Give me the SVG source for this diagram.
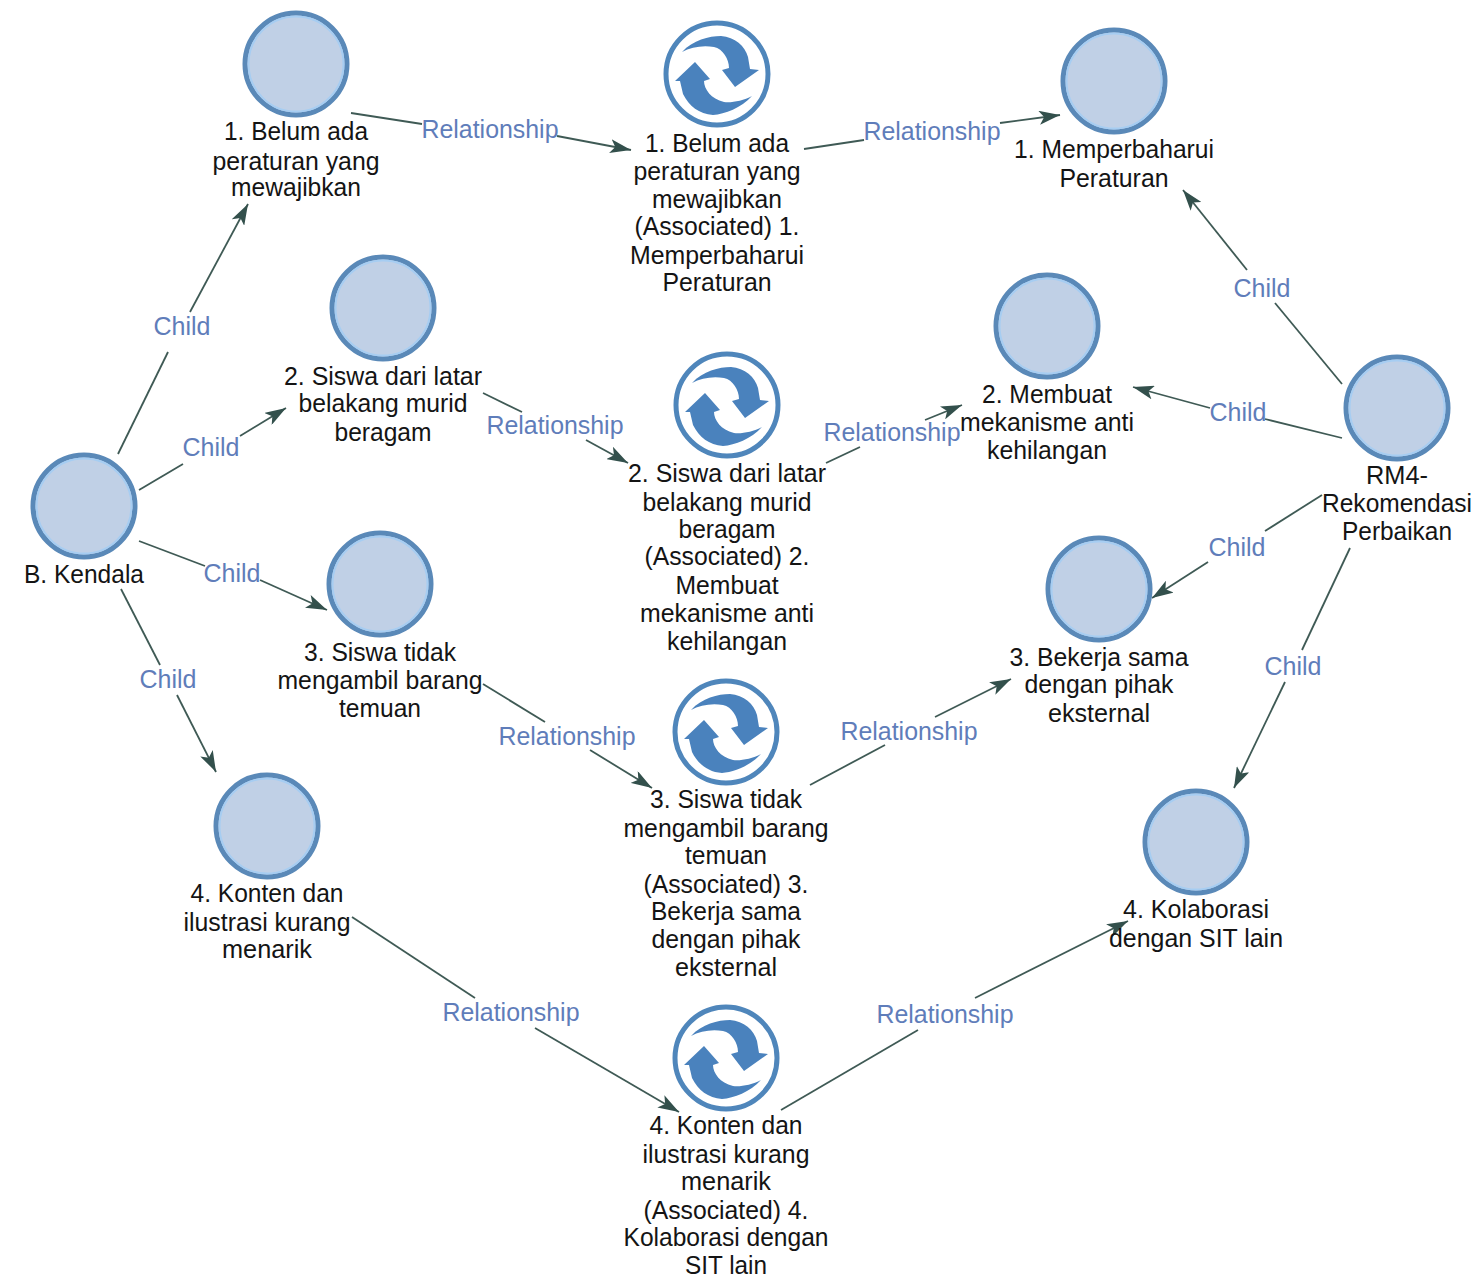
<svg xmlns="http://www.w3.org/2000/svg" width="1477" height="1284" viewBox="0 0 1477 1284">
<style>
text{font-family:"Liberation Sans",Arial,sans-serif;font-size:25px;text-anchor:middle;fill:#141414;stroke:none}
.l{fill:#5f7dba}
.c{fill:#c0d0e6;stroke:#5a89b8;stroke-width:5}
.i{fill:none;stroke:#a6cdf2;stroke-width:2}
.o{fill:#fff;stroke:#4f86bb;stroke-width:5}
.a{fill:#4a82bd}
.e{fill:none;stroke:#3f5a55;stroke-width:1.8}
.h{marker-end:url(#m)}
</style>
<defs>
<marker id="m" markerWidth="22" markerHeight="14" refX="21" refY="7" orient="auto" markerUnits="userSpaceOnUse"><path d="M0 0L21 7L0 14L5 7Z" fill="#33504c"/></marker>
<g id="ball"><circle class="c" r="51"/><circle class="i" r="47.5"/></g>
<g id="cyc"><circle class="o" r="51"/><path class="a" d="M-35-22C-24-34-8-38 4-38C18-37 28-28 31-17L33-5L42-4L18 13L5-4L12-6C12-15 6-25-3-27C-14-29-26-27-35-22Z"/><path class="a" d="M35 22C24 34 8 40-4 41C-18 40-28 32-34 20L-37 7L-42 7L-22-12L-7 5L-13 7C-13 15-6 25 7 28C14 29 26 27 35 22Z"/></g>
</defs>
<rect width="1477" height="1284" fill="#fff"/>
<g id="connectors">
<path class="e" d="M118 454L168 352"/><path class="e h" d="M190 312L248 204"/>
<path class="e" d="M139 490L183 464"/><path class="e h" d="M240 436L286 408"/>
<path class="e" d="M139 541L205 566"/><path class="e h" d="M260 580L327 610"/>
<path class="e" d="M121 589L160 665"/><path class="e h" d="M177 695L216 772"/>
<path class="e" d="M351 113L422 124"/><path class="e h" d="M557 136L631 150"/>
<path class="e" d="M804 149L864 140"/><path class="e h" d="M1000 123L1060 115"/>
<path class="e" d="M483 393L522 412"/><path class="e h" d="M586 440L628 463"/>
<path class="e" d="M826 463L860 447"/><path class="e h" d="M925 420L962 405"/>
<path class="e" d="M483 684L545 722"/><path class="e h" d="M590 750L652 788"/>
<path class="e" d="M810 785L885 745"/><path class="e h" d="M935 717L1011 679"/>
<path class="e" d="M352 917L475 998"/><path class="e h" d="M535 1028L679 1112"/>
<path class="e" d="M781 1110L918 1030"/><path class="e h" d="M975 998L1128 921"/>
<path class="e" d="M1342 384L1275 303"/><path class="e h" d="M1247 270L1183 190"/>
<path class="e" d="M1342 438L1265 419"/><path class="e h" d="M1210 408L1133 387"/>
<path class="e" d="M1322 495L1265 531"/><path class="e h" d="M1208 562L1152 598"/>
<path class="e" d="M1350 548L1302 650"/><path class="e h" d="M1285 682L1234 788"/>
</g>
<g id="edge-labels">
<text class="l" x="182" y="335" textLength="57" lengthAdjust="spacingAndGlyphs">Child</text>
<text class="l" x="211" y="456" textLength="57" lengthAdjust="spacingAndGlyphs">Child</text>
<text class="l" x="232" y="582" textLength="57" lengthAdjust="spacingAndGlyphs">Child</text>
<text class="l" x="168" y="688" textLength="57" lengthAdjust="spacingAndGlyphs">Child</text>
<text class="l" x="1262" y="297" textLength="57" lengthAdjust="spacingAndGlyphs">Child</text>
<text class="l" x="1238" y="421" textLength="57" lengthAdjust="spacingAndGlyphs">Child</text>
<text class="l" x="1237" y="556" textLength="57" lengthAdjust="spacingAndGlyphs">Child</text>
<text class="l" x="1293" y="675" textLength="57" lengthAdjust="spacingAndGlyphs">Child</text>
<text class="l" x="490" y="138" textLength="137" lengthAdjust="spacingAndGlyphs">Relationship</text>
<text class="l" x="932" y="140" textLength="137" lengthAdjust="spacingAndGlyphs">Relationship</text>
<text class="l" x="555" y="434" textLength="137" lengthAdjust="spacingAndGlyphs">Relationship</text>
<text class="l" x="892" y="441" textLength="137" lengthAdjust="spacingAndGlyphs">Relationship</text>
<text class="l" x="567" y="745" textLength="137" lengthAdjust="spacingAndGlyphs">Relationship</text>
<text class="l" x="909" y="740" textLength="137" lengthAdjust="spacingAndGlyphs">Relationship</text>
<text class="l" x="511" y="1021" textLength="137" lengthAdjust="spacingAndGlyphs">Relationship</text>
<text class="l" x="945" y="1023" textLength="137" lengthAdjust="spacingAndGlyphs">Relationship</text>
</g>
<g id="n-b"><use href="#ball" x="84" y="506"/><text x="84" y="583" textLength="120" lengthAdjust="spacingAndGlyphs">B. Kendala</text></g>
<g id="n-a1"><use href="#ball" x="296" y="64"/><text x="296" y="140" textLength="144" lengthAdjust="spacingAndGlyphs">1. Belum ada</text><text x="296" y="170" textLength="167" lengthAdjust="spacingAndGlyphs">peraturan yang</text><text x="296" y="196" textLength="130" lengthAdjust="spacingAndGlyphs">mewajibkan</text></g>
<g id="n-a2"><use href="#ball" x="383" y="308"/><text x="383" y="385" textLength="198" lengthAdjust="spacingAndGlyphs">2. Siswa dari latar</text><text x="383" y="412" textLength="169" lengthAdjust="spacingAndGlyphs">belakang murid</text><text x="383" y="441" textLength="97" lengthAdjust="spacingAndGlyphs">beragam</text></g>
<g id="n-a3"><use href="#ball" x="380" y="584"/><text x="380" y="661" textLength="152" lengthAdjust="spacingAndGlyphs">3. Siswa tidak</text><text x="380" y="689" textLength="205" lengthAdjust="spacingAndGlyphs">mengambil barang</text><text x="380" y="717" textLength="82" lengthAdjust="spacingAndGlyphs">temuan</text></g>
<g id="n-a4"><use href="#ball" x="267" y="826"/><text x="267" y="902" textLength="153" lengthAdjust="spacingAndGlyphs">4. Konten dan</text><text x="267" y="931" textLength="167" lengthAdjust="spacingAndGlyphs">ilustrasi kurang</text><text x="267" y="958" textLength="90" lengthAdjust="spacingAndGlyphs">menarik</text></g>
<g id="n-s1"><use href="#cyc" x="717" y="74"/><text x="717" y="152" textLength="144" lengthAdjust="spacingAndGlyphs">1. Belum ada</text><text x="717" y="180" textLength="167" lengthAdjust="spacingAndGlyphs">peraturan yang</text><text x="717" y="208" textLength="130" lengthAdjust="spacingAndGlyphs">mewajibkan</text><text x="717" y="235" textLength="165" lengthAdjust="spacingAndGlyphs">(Associated) 1.</text><text x="717" y="264" textLength="174" lengthAdjust="spacingAndGlyphs">Memperbaharui</text><text x="717" y="291" textLength="109" lengthAdjust="spacingAndGlyphs">Peraturan</text></g>
<g id="n-s2"><use href="#cyc" x="727" y="405"/><text x="727" y="482" textLength="198" lengthAdjust="spacingAndGlyphs">2. Siswa dari latar</text><text x="727" y="511" textLength="169" lengthAdjust="spacingAndGlyphs">belakang murid</text><text x="727" y="538" textLength="97" lengthAdjust="spacingAndGlyphs">beragam</text><text x="727" y="565" textLength="165" lengthAdjust="spacingAndGlyphs">(Associated) 2.</text><text x="727" y="594" textLength="103" lengthAdjust="spacingAndGlyphs">Membuat</text><text x="727" y="622" textLength="174" lengthAdjust="spacingAndGlyphs">mekanisme anti</text><text x="727" y="650" textLength="120" lengthAdjust="spacingAndGlyphs">kehilangan</text></g>
<g id="n-s3"><use href="#cyc" x="726" y="732"/><text x="726" y="808" textLength="152" lengthAdjust="spacingAndGlyphs">3. Siswa tidak</text><text x="726" y="837" textLength="205" lengthAdjust="spacingAndGlyphs">mengambil barang</text><text x="726" y="864" textLength="82" lengthAdjust="spacingAndGlyphs">temuan</text><text x="726" y="893" textLength="165" lengthAdjust="spacingAndGlyphs">(Associated) 3.</text><text x="726" y="920" textLength="150" lengthAdjust="spacingAndGlyphs">Bekerja sama</text><text x="726" y="948" textLength="149" lengthAdjust="spacingAndGlyphs">dengan pihak</text><text x="726" y="976" textLength="102" lengthAdjust="spacingAndGlyphs">eksternal</text></g>
<g id="n-s4"><use href="#cyc" x="726" y="1058"/><text x="726" y="1134" textLength="153" lengthAdjust="spacingAndGlyphs">4. Konten dan</text><text x="726" y="1163" textLength="167" lengthAdjust="spacingAndGlyphs">ilustrasi kurang</text><text x="726" y="1190" textLength="90" lengthAdjust="spacingAndGlyphs">menarik</text><text x="726" y="1219" textLength="165" lengthAdjust="spacingAndGlyphs">(Associated) 4.</text><text x="726" y="1246" textLength="205" lengthAdjust="spacingAndGlyphs">Kolaborasi dengan</text><text x="726" y="1274" textLength="82" lengthAdjust="spacingAndGlyphs">SIT lain</text></g>
<g id="n-r1"><use href="#ball" x="1114" y="81"/><text x="1114" y="158" textLength="200" lengthAdjust="spacingAndGlyphs">1. Memperbaharui</text><text x="1114" y="187" textLength="109" lengthAdjust="spacingAndGlyphs">Peraturan</text></g>
<g id="n-r2"><use href="#ball" x="1047" y="326"/><text x="1047" y="403" textLength="130" lengthAdjust="spacingAndGlyphs">2. Membuat</text><text x="1047" y="431" textLength="174" lengthAdjust="spacingAndGlyphs">mekanisme anti</text><text x="1047" y="459" textLength="120" lengthAdjust="spacingAndGlyphs">kehilangan</text></g>
<g id="n-r3"><use href="#ball" x="1099" y="589"/><text x="1099" y="666" textLength="179" lengthAdjust="spacingAndGlyphs">3. Bekerja sama</text><text x="1099" y="693" textLength="149" lengthAdjust="spacingAndGlyphs">dengan pihak</text><text x="1099" y="722" textLength="102" lengthAdjust="spacingAndGlyphs">eksternal</text></g>
<g id="n-r4"><use href="#ball" x="1196" y="842"/><text x="1196" y="918" textLength="146" lengthAdjust="spacingAndGlyphs">4. Kolaborasi</text><text x="1196" y="947" textLength="174" lengthAdjust="spacingAndGlyphs">dengan SIT lain</text></g>
<g id="n-rm4"><use href="#ball" x="1397" y="408"/><text x="1397" y="484" textLength="62" lengthAdjust="spacingAndGlyphs">RM4-</text><text x="1397" y="512" textLength="150" lengthAdjust="spacingAndGlyphs">Rekomendasi</text><text x="1397" y="540" textLength="110" lengthAdjust="spacingAndGlyphs">Perbaikan</text></g>
</svg>
